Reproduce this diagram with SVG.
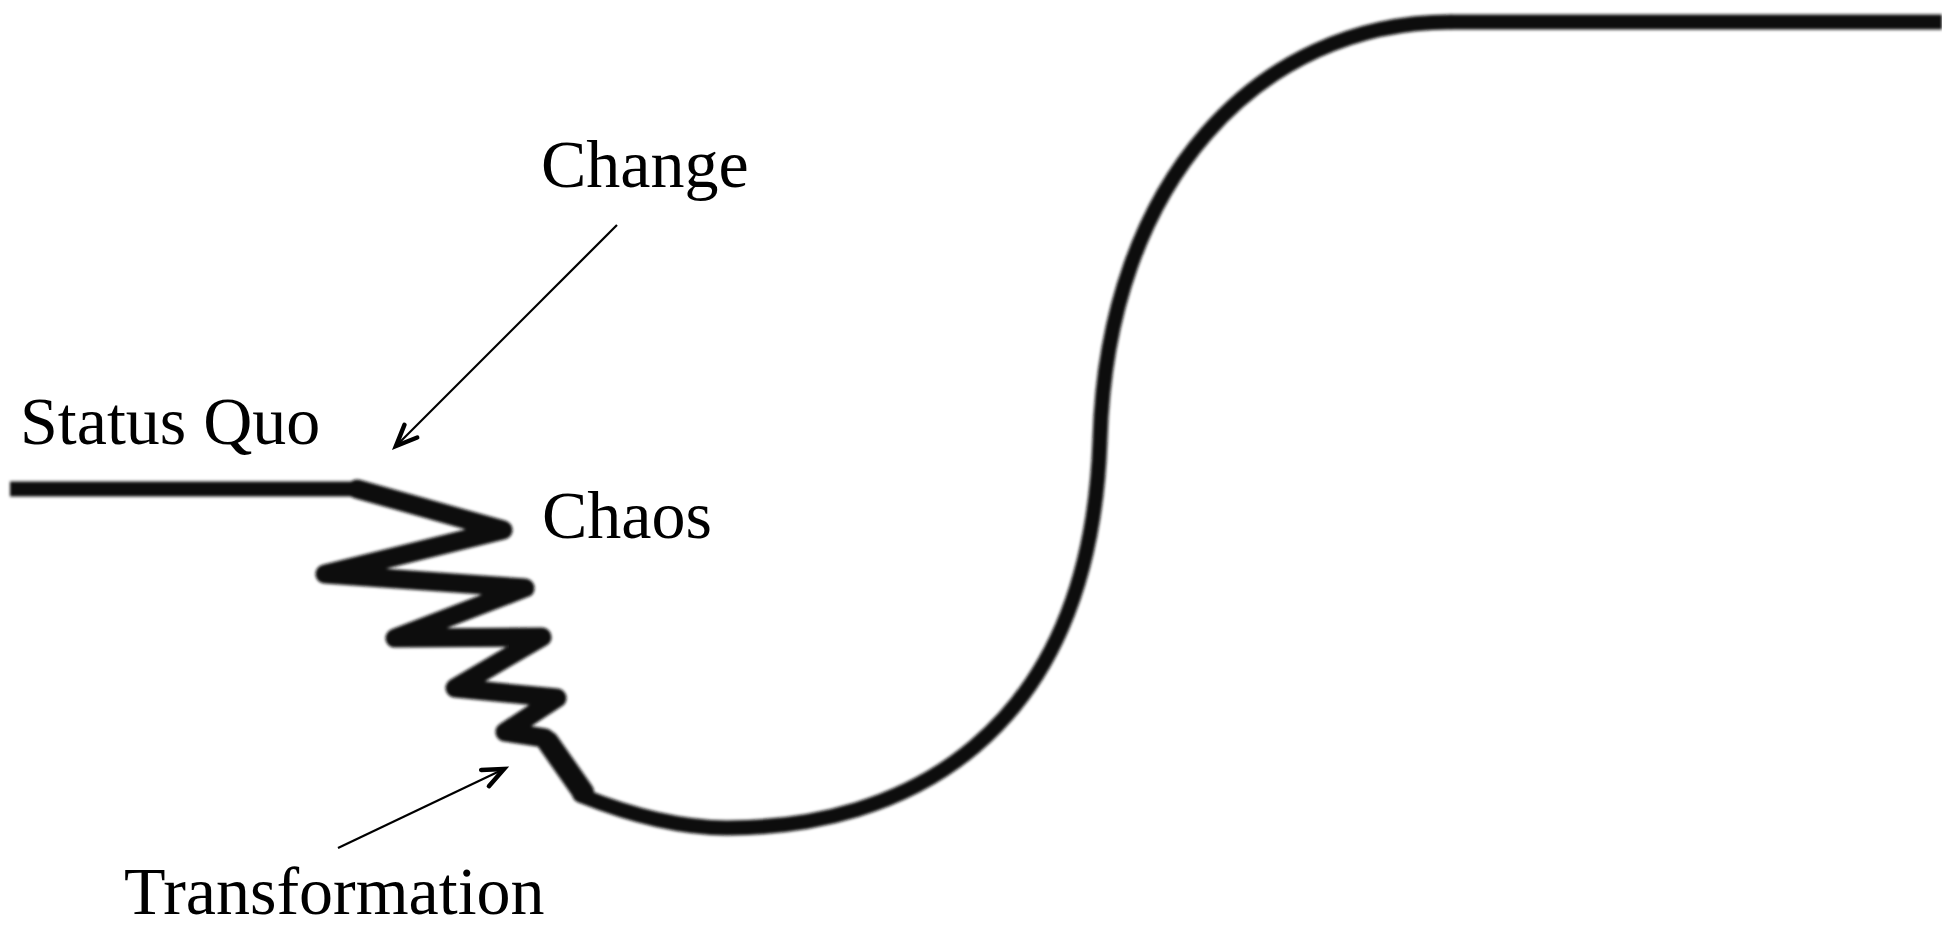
<svg xmlns="http://www.w3.org/2000/svg" width="1942" height="929" viewBox="0 0 1942 929">
  <style>
    .lbl { font-family: "Liberation Serif", "Times New Roman", serif; font-size: 68px; fill: #000; }
    .curve { fill: none; stroke: #111; stroke-linecap: round; stroke-linejoin: round; }
    .flat { fill: none; stroke: #111; stroke-linecap: butt; }
    .arrow { fill: none; stroke: #000; stroke-width: 2.2; }
  </style>
  <defs>
    <filter id="soft" filterUnits="userSpaceOnUse" x="0" y="0" width="1942" height="929">
      <feGaussianBlur stdDeviation="1.6"/>
    </filter>
    <marker id="openhead" markerUnits="userSpaceOnUse" markerWidth="40" markerHeight="40" refX="0" refY="0" viewBox="-30 -20 40 40" orient="auto" overflow="visible">
      <path d="M -21 -9 L 0 0 L -21 9" fill="none" stroke="#000" stroke-width="4.5" stroke-linecap="round" stroke-linejoin="miter"/>
    </marker>
  </defs>
  <rect width="1942" height="929" fill="#fff"/>

  <g id="curve" filter="url(#soft)">
    <path class="flat" stroke-width="15" d="M 10 489 L 357 489"/>
    <circle cx="357" cy="489" r="7.5" fill="#111"/>
    <path class="curve" stroke-width="19" d="M 357 489 L 503 530 L 325 574 L 525 588 L 395 638 L 542 637 L 455 688 L 557 698 L 505 732 L 545 738"/>
    <path class="curve" stroke-width="22" d="M 548 742 L 583 792"/>
    <path class="curve" stroke-width="15" d="M 580 795 C 630 815 680 828 727 828 C 900 828 1090 740 1100 440 C 1107 180 1260 22 1450 22"/>
    <path class="flat" stroke-width="15" d="M 1450 22 L 1942 22"/>
  </g>

  <g id="connectors">
    <line class="arrow" x1="617" y1="225" x2="396" y2="446" marker-end="url(#openhead)"/>
    <line class="arrow" x1="338" y1="848" x2="504" y2="769" marker-end="url(#openhead)"/>
  </g>

  <g id="node-change"><text class="lbl" x="541" y="187">Change</text></g>
  <g id="node-status-quo"><text class="lbl" x="20" y="444">Status Quo</text></g>
  <g id="node-chaos"><text class="lbl" x="542" y="538">Chaos</text></g>
  <g id="node-transformation"><text class="lbl" x="124" y="914">Transformation</text></g>
</svg>
